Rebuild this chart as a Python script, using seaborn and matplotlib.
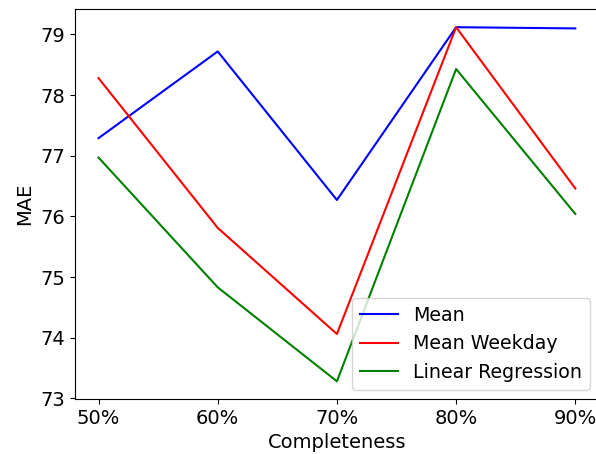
import matplotlib
matplotlib.use("Agg")
import matplotlib.pyplot as plt
import seaborn as sns
import pandas as pd

completeness = ["50%", "60%", "70%", "80%", "90%"]
mean_mae = [77.29, 78.72, 76.27, 79.12, 79.10]
mean_weekday_mae = [78.28, 75.81, 74.06, 79.12, 76.46]
linreg_mae = [76.97, 74.83, 73.28, 78.43, 76.04]

methods = ["Mean", "Mean Weekday", "Linear Regression"]
colors = ["blue", "red", "green"]

df = pd.DataFrame({
    "Completeness": completeness * 3,
    "MAE": mean_mae + mean_weekday_mae + linreg_mae,
    "Method": [m for m in methods for _ in completeness],
})

plt.rcParams["font.family"] = ["DejaVu Sans"]
plt.rcParams["font.size"] = 14

fig = plt.figure(figsize=(5.96, 4.54), dpi=100)
ax = fig.add_axes([0.1253, 0.1211, 0.880, 0.858])

sns.lineplot(data=df, x="Completeness", y="MAE", hue="Method",
             hue_order=methods, palette=colors, linewidth=1.5, ax=ax)

ax.set_xlabel("Completeness", fontsize=14)
ax.set_ylabel("MAE", fontsize=14)
ax.tick_params(labelsize=14)
ax.margins(x=0.05, y=0.05)
ax.legend(loc="lower right", fontsize=13.7, title=None)

fig.savefig("out.png", dpi=100)
